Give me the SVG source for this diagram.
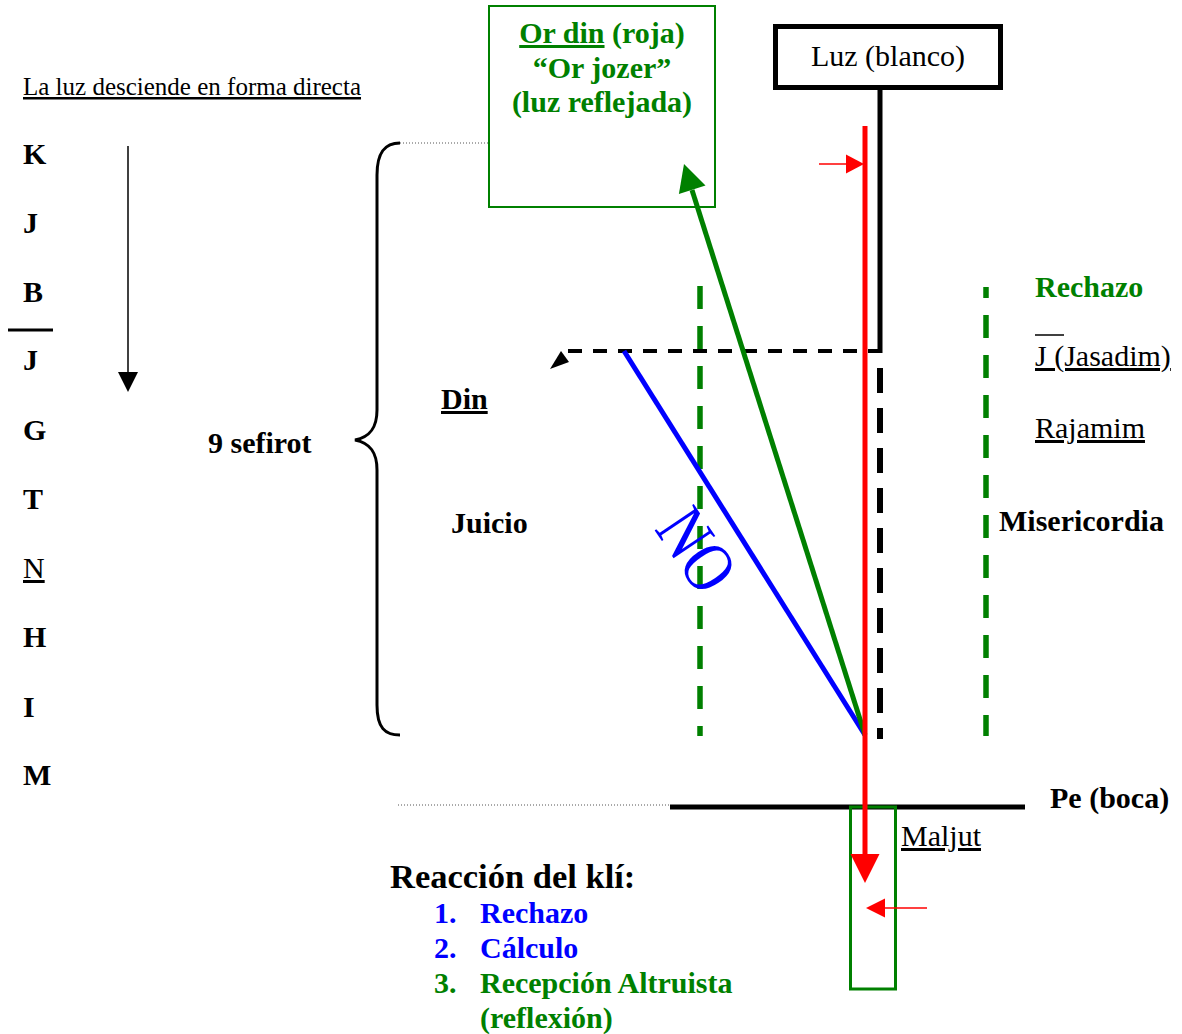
<svg xmlns="http://www.w3.org/2000/svg" width="1182" height="1034" viewBox="0 0 1182 1034">
<style>
text{font-family:"Liberation Serif","Times New Roman",serif;}
.b{font-weight:bold;}
.f30{font-size:30px;}
.g{fill:#008000;}
.bl{fill:#0000ff;}
.k{fill:#000;}
.u{text-decoration:underline;}
.dot{stroke:#555;stroke-width:1;stroke-dasharray:1 2;fill:none;}
.gdash{stroke:#008000;stroke-width:5.5;stroke-dasharray:23 17;fill:none;}
</style>
<rect width="1182" height="1034" fill="#fff"/>

<g id="left-column">
<text x="23" y="95" font-size="25" class="u">La luz desciende en forma directa</text>
<text x="23" y="164" class="b f30">K</text>
<text x="23" y="233" class="b f30">J</text>
<text x="23" y="302" class="b f30">B</text>
<line x1="8" y1="330" x2="53" y2="330" stroke="#000" stroke-width="3"/>
<text x="23" y="370" class="b f30">J</text>
<text x="23" y="440" class="b f30">G</text>
<text x="23" y="509" class="b f30">T</text>
<text x="23" y="578" class="f30 u">N</text>
<text x="23" y="647" class="b f30">H</text>
<text x="23" y="717" class="b f30">I</text>
<text x="23" y="785" class="b f30">M</text>
<line x1="128" y1="146" x2="128" y2="374" stroke="#000" stroke-width="1.5"/>
<polygon points="118,372 138,372 128,392" fill="#000"/>
</g>

<g id="brace">
<path d="M400,143 C385,143 377,152 377,175 L377,410 C377,428 370,437 355,440 C370,443 377,452 377,470 L377,705 C377,728 385,735 400,735" fill="none" stroke="#000" stroke-width="3"/>
<text x="208" y="453" class="b f30">9 sefirot</text>
</g>

<g id="guides">
<line x1="400" y1="143" x2="489" y2="143" class="dot"/>
<line x1="398" y1="805" x2="670" y2="805" class="dot"/>
<line x1="700" y1="286" x2="700" y2="736" class="gdash"/>
<line x1="986" y1="287" x2="986" y2="736" class="gdash" stroke-dashoffset="12"/>
</g>

<g id="or-din-box">
<rect x="489" y="6" width="226" height="201" fill="none" stroke="#008000" stroke-width="2"/>
<text x="602" y="43" text-anchor="middle" class="b f30 g"><tspan class="u">Or din</tspan> (roja)</text>
<text x="602" y="78" text-anchor="middle" class="b f30 g">“Or jozer”</text>
<text x="602" y="112" text-anchor="middle" class="b f30 g">(luz reflejada)</text>
</g>

<g id="luz-box">
<rect x="775.5" y="26.5" width="225" height="61" fill="#fff" stroke="#000" stroke-width="5"/>
<text x="888" y="66" text-anchor="middle" class="f30">Luz (blanco)</text>
</g>

<g id="pe-line">
<line x1="670" y1="807" x2="1025" y2="807" stroke="#000" stroke-width="5"/>
<text x="1050" y="808" class="b f30">Pe (boca)</text>
</g>

<g id="maljut-box">
<rect x="850.5" y="807" width="45" height="182" fill="none" stroke="#008000" stroke-width="3"/>
<text x="901" y="846" class="f30 u">Maljut</text>
</g>

<g id="labels">
<text x="441" y="409" class="b f30 u">Din</text>
<text x="451" y="533" class="b f30">Juicio</text>
<text x="1035" y="297" class="b f30 g">Rechazo</text>
<line x1="1035" y1="335" x2="1064" y2="335" stroke="#000" stroke-width="1.5"/>
<text x="1035" y="366" class="f30 u">J (Jasadim)</text>
<text x="1035" y="438" class="f30 u">Rajamim</text>
<text x="999" y="531" class="b f30">Misericordia</text>
<text transform="translate(697,550) rotate(56) scale(0.8,1)" x="0" y="24" text-anchor="middle" font-size="72" class="bl">NO</text>
</g>

<g id="reaccion">
<text x="390" y="888" font-size="34.5" class="b">Reacción del klí:</text>
<text x="434" y="923" class="b f30 bl">1.</text>
<text x="480" y="923" class="b f30 bl">Rechazo</text>
<text x="434" y="958" class="b f30 bl">2.</text>
<text x="480" y="958" class="b f30 bl">Cálculo</text>
<text x="434" y="993" class="b f30 g">3.</text>
<text x="480" y="993" class="b f30 g">Recepción Altruista</text>
<text x="480" y="1028" class="b f30 g">(reflexión)</text>
</g>

<g id="connectors">
<line x1="880" y1="89" x2="880" y2="353" stroke="#000" stroke-width="5"/>
<line x1="882" y1="351" x2="563" y2="351" stroke="#000" stroke-width="4" stroke-dasharray="14 11"/>
<polygon points="550,369 569,362 561,351" fill="#000"/>
<line x1="880" y1="368" x2="880" y2="739" stroke="#000" stroke-width="6" stroke-dasharray="25 15"/>
<line x1="624" y1="351" x2="865" y2="735" stroke="#0000ff" stroke-width="5"/>
<line x1="865" y1="735" x2="692" y2="190" stroke="#008000" stroke-width="5"/>
<polygon points="684,164 705.5,185.5 678.9,193.9" fill="#008000"/>
<line x1="865" y1="126" x2="865" y2="856" stroke="#ff0000" stroke-width="5"/>
<polygon points="850.5,854 879.5,854 865,883" fill="#ff0000"/>
<line x1="819" y1="164" x2="848" y2="164" stroke="#ff0000" stroke-width="1.5"/>
<polygon points="846,154.5 846,173.5 864,164" fill="#ff0000"/>
<line x1="927" y1="908" x2="883" y2="908" stroke="#ff0000" stroke-width="1.5"/>
<polygon points="885,898.5 885,917.5 866,908" fill="#ff0000"/>
</g>
</svg>
